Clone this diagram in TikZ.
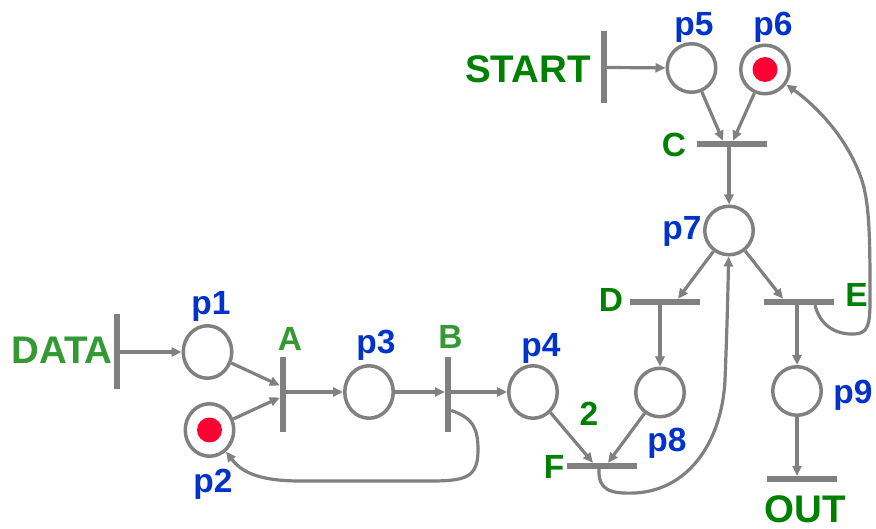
\documentclass[tikz,border=0pt]{standalone}
\usepackage{fontspec}
\setmainfont{Liberation Sans}
\usetikzlibrary{arrows.meta,shapes.geometric,calc}
\definecolor{netgray}{HTML}{808080}
\definecolor{placeblue}{HTML}{0033CC}
\definecolor{lightgreen}{HTML}{339933}
\definecolor{darkgreen}{HTML}{008000}
\definecolor{tokenred}{HTML}{FF0033}

\begin{document}
\begin{tikzpicture}[x=1pt,y=-1pt,
  place/.style={circle,draw=netgray,line width=3.5pt,minimum size=48.5pt,inner sep=0pt},
  tallplace/.style={ellipse,draw=netgray,line width=3.5pt,minimum width=48.5pt,minimum height=52.5pt,inner sep=0pt},
  vbar/.style={rectangle,fill=netgray,minimum width=6pt,minimum height=75pt,inner sep=0pt},
  hbar/.style={rectangle,fill=netgray,minimum width=70pt,minimum height=6pt,inner sep=0pt},
  token/.style={circle,fill=tokenred,minimum size=25pt,inner sep=0pt},
  arc/.style={draw=netgray,line width=3.2pt,-{Triangle[length=10pt,width=9pt]}},
  plabel/.style={text=placeblue,font=\bfseries\fontsize{33.5}{33.5}\selectfont,inner sep=0pt},
  tlabel/.style={text=darkgreen,font=\bfseries\fontsize{33.5}{33.5}\selectfont,inner sep=0pt},
  wlabel/.style={text=darkgreen,font=\bfseries\fontsize{38.5}{38.5}\selectfont,inner sep=0pt},
]
\useasboundingbox (0,0) rectangle (876,529);

% places
\node[tallplace] (p1) at (207.5,352) {};
\node[tallplace] (p2) at (209.5,430) {};
\node[tallplace] (p3) at (369,392) {};
\node[tallplace] (p4) at (533,392) {};
\node[place] (p5) at (691.5,68) {};
\node[place] (p6) at (765,69.5) {};
\node[place] (p7) at (729,230.5) {};
\node[place] (p8) at (660,392.5) {};
\node[place] (p9) at (797,391) {};

% tokens
\node[token] (tok2) at (p2) {};
\node[token] (tok6) at (p6) {};

% transitions
\node[vbar] (data) at (117,352) {};
\node[vbar] (A) at (283,394.5) {};
\node[vbar] (B) at (448,394.5) {};
\node[vbar,minimum height=72pt] (start) at (604,67.5) {};
\node[hbar] (C) at (732,144) {};
\node[hbar] (D) at (664.5,302) {};
\node[hbar] (E) at (799,302) {};
\node[hbar] (F) at (602,466) {};
\node[hbar] (out) at (802,479) {};

% place labels
\node[plabel] (lp1) at (211,306.5) {p1};
\node[plabel] (lp2) at (213,484) {p2};
\node[plabel] (lp3) at (376,345) {p3};
\node[plabel] (lp4) at (541,348) {p4};
\node[plabel] (lp5) at (694,27.5) {p5};
\node[plabel] (lp6) at (773,27.5) {p6};
\node[plabel] (lp7) at (682,231.5) {p7};
\node[plabel] (lp8) at (667,443) {p8};
\node[plabel] (lp9) at (853,395) {p9};

% transition labels
\node[wlabel,text=lightgreen] (ldata) at (62,350) {DATA};
\node[tlabel,text=lightgreen] (lA) at (290,339) {A};
\node[tlabel,text=lightgreen] (lB) at (450.5,336.5) {B};
\node[wlabel] (lstart) at (528,69) {START};
\node[tlabel] (lC) at (674,144.5) {C};
\node[tlabel] (lD) at (611,300) {D};
\node[tlabel] (lE) at (856.5,295) {E};
\node[tlabel] (lF) at (554,466.5) {F};
\node[tlabel] (lw) at (589,414) {2};
\node[wlabel] (lout) at (805,509) {OUT};

% arcs
\draw[arc] (data) -- (p1);
\draw[arc] (p1) -- ($(A.west)+(0,-9)$);
\draw[arc] (p2) -- ($(A.west)+(0,3)$);
\draw[arc] (A.east |- p3) -- (p3);
\draw[arc] (p3) -- (B.west |- p3);
\draw[arc] (B.east |- p4) -- (p4);
\draw[arc] ($(B.east)+(0,16)$) .. controls (474,418) and (478,430) .. (478,450)
  .. controls (478,478) and (465,481) .. (430,481) -- (300,481)
  .. controls (255,481) and (240,470) .. (p2);
\draw[arc] (p4) -- ($(F.north)+(-9,0)$);
\draw[arc] (p8) -- ($(F.north)+(6,0)$);
\draw[arc] ($(F.south)+(-3,0)$) .. controls (598,490) and (610,494) .. (635,493)
  .. controls (690,490) and (722,440) .. (725,380)
  .. controls (727,330) and (728,290) .. (p7);
\draw[arc] (start) -- (p5);
\draw[arc] (p5) -- ($(C.north)+(-9,0)$);
\draw[arc] (p6) -- ($(C.north)+(1,0)$);
\draw[arc] (C.south -| p7) -- (p7);
\draw[arc] (p7) -- ($(D.north)+(13.5,0)$);
\draw[arc] (p7) -- ($(E.north)+(-16,0)$);
\draw[arc] (D.south -| p8) -- (p8);
\draw[arc] (E.south -| p9) -- (p9);
\draw[arc] ($(E.south)+(16,0)$) .. controls (820,325) and (835,335) .. (855,334)
  .. controls (868,333) and (870,325) .. (870,300)
  .. controls (870,240) and (870,200) .. (860,175)
  .. controls (845,135) and (815,105) .. (p6);
\draw[arc] (p9) -- (out.north -| p9);
\end{tikzpicture}
\end{document}
